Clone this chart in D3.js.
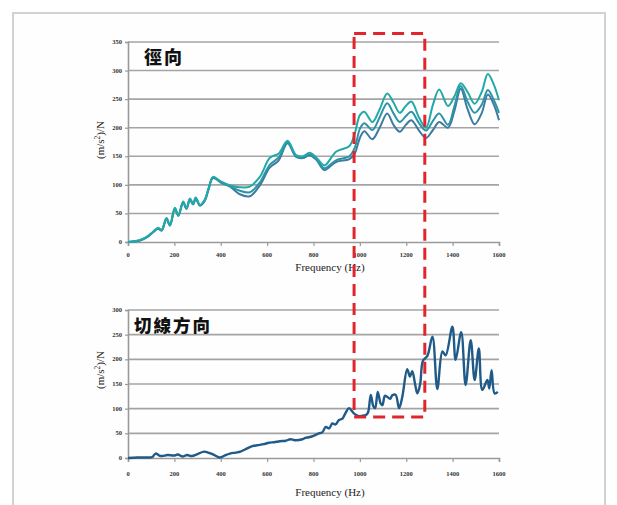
<!DOCTYPE html>
<html>
<head>
<meta charset="utf-8">
<script src="https://cdn.jsdelivr.net/npm/d3@7"></script>
<style>
  html, body { margin: 0; padding: 0; background: #ffffff; }
  svg { display: block; }
  .tick-label { font-family: "Liberation Serif", "DejaVu Serif", serif; font-size: 6.5px; fill: #333; font-weight: bold; }
  .axis-title { font-family: "Liberation Serif", "DejaVu Serif", serif; font-size: 11px; fill: #222; }
  .panel-title { font-family: "Noto Sans CJK TC", "Noto Sans CJK SC", sans-serif; font-weight: 900; fill: #111; }
</style>
</head>
<body>
<script>
// ---- Radial direction (three measurements) ----
const radialFreq = [0, 50, 80, 108, 130, 145, 166, 181, 202, 217, 238, 252, 267, 281, 292, 310, 331, 346, 367,
  400, 440, 480, 525, 570, 611, 650, 688, 725, 755, 783, 812, 847, 897, 955, 978, 1000, 1019, 1054, 1085, 1118,
  1145, 1172, 1198, 1222, 1255, 1285, 1315, 1342, 1380, 1408, 1435, 1465, 1495, 1525, 1552, 1578, 1600];

const radialA = [0, 3, 9, 18, 25, 21, 42, 30, 60, 47, 71, 59, 76, 67, 78, 65, 74, 92, 114,
  106, 99, 96, 97, 115, 147, 155, 177, 152, 150, 156, 148, 134, 158, 168, 190, 222, 228, 210, 232, 260,
  244, 226, 238, 246, 218, 200, 240, 267, 238, 255, 278, 262, 242, 262, 294, 275, 248];

const radialB = [0, 3, 8, 17, 24, 20, 41, 29, 59, 46, 70, 58, 75, 66, 77, 64, 73, 91, 113,
  105, 98, 90, 87, 105, 135, 148, 175, 150, 148, 153, 146, 129, 143, 150, 165, 198, 208, 196, 218, 243,
  225, 210, 220, 228, 208, 195, 212, 225, 205, 238, 273, 245, 226, 240, 266, 248, 226];

const radialC = [0, 2, 8, 17, 23, 20, 40, 29, 58, 46, 69, 58, 74, 66, 76, 64, 72, 90, 112,
  104, 97, 84, 80, 100, 130, 143, 173, 149, 147, 152, 144, 126, 140, 145, 155, 182, 194, 180, 200, 225,
  205, 193, 205, 213, 195, 182, 196, 210, 200, 230, 268, 232, 206, 225, 258, 240, 213];

// ---- Tangential direction ----
const tangentFreq = [0, 40, 80, 105, 119, 135, 148, 170, 198, 215, 235, 255, 275, 300, 328, 345, 364, 380, 393,
  408, 421, 440, 464, 485, 508, 536, 560, 585, 608, 630, 655, 680, 700, 720, 752, 765, 780, 800, 823, 838, 853,
  868, 881, 895, 910, 925, 939, 953, 966, 975, 996, 1012, 1025, 1035, 1047, 1058, 1066, 1077, 1090, 1097, 1108,
  1118, 1130, 1140, 1154, 1169, 1183, 1204, 1216, 1226, 1238, 1248, 1260, 1272, 1291, 1313, 1334, 1356, 1370,
  1399, 1413, 1437, 1456, 1478, 1495, 1513, 1528, 1550, 1558, 1568, 1581, 1595];

const tangentVal = [0, 1, 1, 2, 9, 5, 4, 6, 5, 7, 3, 6, 4, 8, 13, 11, 8, 4, 1,
  3, 6, 9, 11, 13, 18, 24, 26, 28, 31, 32, 34, 35, 38, 36, 38, 41, 42, 45, 50, 52, 63,
  60, 70, 68, 77, 80, 92, 101, 95, 90, 85, 86, 87, 92, 128, 105, 101, 134, 110, 107, 126,
  124, 120, 127, 128, 101, 124, 180, 165, 176, 150, 131, 150, 197, 207, 246, 140, 216, 208,
  266, 199, 255, 148, 239, 158, 222, 138, 158, 141, 178, 131, 134];

// ---- Axis ticks and labels ----
const freqTicks = [0, 200, 400, 600, 800, 1000, 1200, 1400, 1600];
const radialTicks = [0, 50, 100, 150, 200, 250, 300, 350];
const tangentTicks = [0, 50, 100, 150, 200, 250, 300];
const radialTitle = "徑向";
const tangentTitle = "切線方向";
const xTitle = "Frequency (Hz)";
// Highlighted band (frequency range) and its vertical extent in data units
const bandFreq = [975, 1280];
const bandTopValue = 365;     // on radial scale
const bandBottomValue = 83;   // on tangential scale

const W = 617, H = 505;
const svg = d3.select("body").append("svg").attr("width", W).attr("height", H);

// outer frame (open at the bottom)
svg.append("rect").attr("x", 0).attr("y", 0).attr("width", W).attr("height", H).attr("fill", "#ffffff");
svg.append("path")
  .attr("d", `M13,${H + 2} L13,13 L605,13 L605,${H + 2}`)
  .attr("fill", "#fefefe").attr("stroke", "#d2d2d2").attr("stroke-width", 2);

const x = d3.scaleLinear().domain([0, 1600]).range([128, 499]);
const yTop = d3.scaleLinear().domain([0, 350]).range([242, 42]);
const yBot = d3.scaleLinear().domain([0, 300]).range([458, 310]);

function drawPanel(y, ticks, title, titlePos, titleSize, xLabelY, xTitleY, yTitleY) {
  const g = svg.append("g");
  // gridlines
  g.selectAll("line.grid").data(ticks.filter(t => t > 0)).enter().append("line")
    .attr("x1", x(0)).attr("x2", x(1600))
    .attr("y1", d => y(d)).attr("y2", d => y(d))
    .attr("stroke", "#a4a4a4").attr("stroke-width", 1.6);
  // axes
  const xAxis = d3.axisBottom(x).tickValues(freqTicks).tickSize(4).tickFormat("");
  const ax = g.append("g").attr("transform", `translate(0,${y(0)})`).call(xAxis);
  ax.select(".domain").attr("stroke", "#9a9a9a").attr("stroke-width", 1.6);
  ax.selectAll(".tick line").attr("stroke", "#9a9a9a").attr("stroke-width", 1.2);
  const yAxis = d3.axisLeft(y).tickValues(ticks).tickSize(3).tickFormat("");
  const ay = g.append("g").attr("transform", `translate(${x(0)},0)`).call(yAxis);
  ay.select(".domain").attr("stroke", "#9a9a9a").attr("stroke-width", 1.6);
  ay.selectAll(".tick line").attr("stroke", "#9a9a9a").attr("stroke-width", 1.2);
  // tick labels
  g.selectAll("text.xt").data(freqTicks).enter().append("text")
    .attr("class", "tick-label").attr("x", d => x(d)).attr("y", xLabelY)
    .attr("text-anchor", "middle").text(d => d);
  g.selectAll("text.yt").data(ticks).enter().append("text")
    .attr("class", "tick-label").attr("x", x(0) - 6).attr("y", d => y(d) + 2)
    .attr("text-anchor", "end").text(d => d);
  // axis titles
  g.append("text").attr("class", "axis-title").attr("x", 330).attr("y", xTitleY)
    .attr("text-anchor", "middle").text(xTitle);
  const yt = g.append("text").attr("class", "axis-title")
    .attr("transform", `translate(104,${yTitleY}) rotate(-90)`).attr("text-anchor", "middle");
  yt.append("tspan").text("(m/s");
  yt.append("tspan").attr("font-size", "7.5px").attr("dy", -4).text("2");
  yt.append("tspan").attr("dy", 4).text(")/N");
  // panel title
  g.append("text").attr("class", "panel-title").attr("x", titlePos[0]).attr("y", titlePos[1])
    .attr("font-size", titleSize + "px").attr("letter-spacing", "2px").text(title);
  return g;
}

drawPanel(yTop, radialTicks, radialTitle, [144, 64], 18, 257, 271, 140);
drawPanel(yBot, tangentTicks, tangentTitle, [134, 332], 17.5, 476, 496, 370);

// radial curves
const lineTop = d3.line().x(d => x(d[0])).y(d => yTop(d[1])).curve(d3.curveCatmullRom.alpha(0.5));
const radialSeries = [
  { vals: radialC, color: "#3f7aa0" },
  { vals: radialB, color: "#2b94a6" },
  { vals: radialA, color: "#22a9a7" }
];
radialSeries.forEach(s => {
  svg.append("path")
    .datum(radialFreq.map((f, i) => [f, s.vals[i]]))
    .attr("d", lineTop).attr("fill", "none")
    .attr("stroke", s.color).attr("stroke-width", 2).attr("stroke-linejoin", "round");
});

// tangential curve
const lineBot = d3.line().x(d => x(d[0])).y(d => yBot(d[1])).curve(d3.curveCatmullRom.alpha(0.5));
svg.append("path")
  .datum(tangentFreq.map((f, i) => [f, tangentVal[i]]))
  .attr("d", lineBot).attr("fill", "none")
  .attr("stroke", "#1f5a88").attr("stroke-width", 2.4).attr("stroke-linejoin", "round");

// highlighted frequency band spanning both panels
svg.append("rect")
  .attr("x", x(bandFreq[0])).attr("y", yTop(bandTopValue))
  .attr("width", x(bandFreq[1]) - x(bandFreq[0]))
  .attr("height", yBot(bandBottomValue) - yTop(bandTopValue))
  .attr("fill", "none").attr("stroke", "#e0262c").attr("stroke-width", 3)
  .attr("stroke-dasharray", "12,7");
</script>
</body>
</html>
